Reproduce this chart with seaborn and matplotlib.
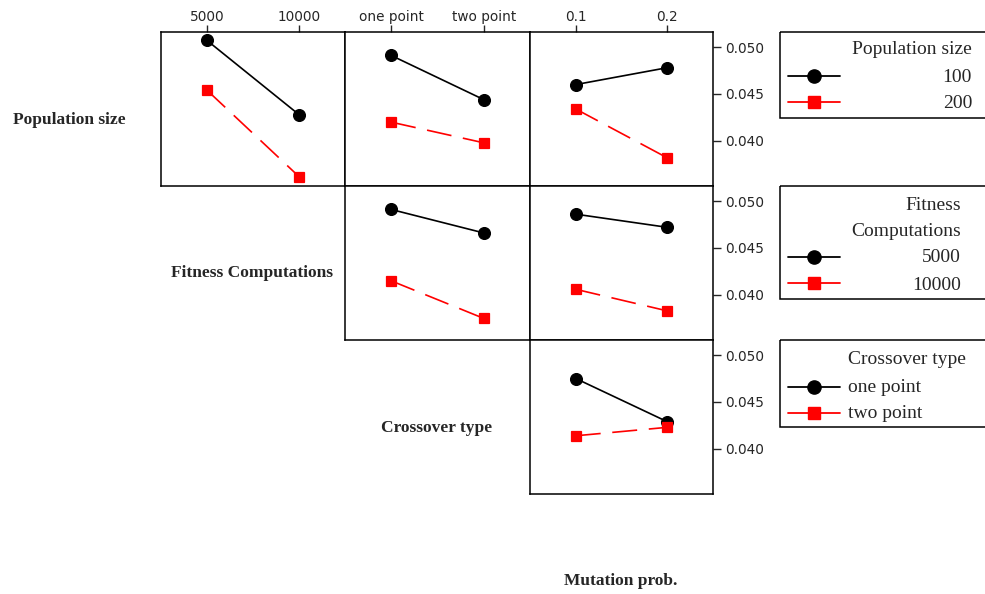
import matplotlib
matplotlib.use("Agg")
import matplotlib.pyplot as plt
import seaborn as sns
import pandas as pd
from matplotlib.patches import Rectangle
from matplotlib.lines import Line2D

# ---------------- data ----------------
pop_levels = ["100", "200"]
fit_levels = ["5000", "10000"]
cross_levels = ["one point", "two point"]
mut_levels = ["0.1", "0.2"]

# row 1: Population size traces
pop_fit_100 = [0.0507, 0.0428]
pop_fit_200 = [0.0454, 0.0362]
pop_cross_100 = [0.0491, 0.0444]
pop_cross_200 = [0.0420, 0.0398]
pop_mut_100 = [0.0460, 0.0478]
pop_mut_200 = [0.0434, 0.0382]
# row 2: Fitness computations traces
fit_cross_5000 = [0.0491, 0.0466]
fit_cross_10000 = [0.0415, 0.0375]
fit_mut_5000 = [0.0486, 0.0472]
fit_mut_10000 = [0.0406, 0.0383]
# row 3: Crossover type traces
cross_mut_one = [0.0475, 0.0429]
cross_mut_two = [0.0414, 0.0423]

y_ticks = [0.040, 0.045, 0.050]
y_lim = (0.0352, 0.0516)

sns.set_style("white")
plt.rcParams["font.family"] = ["DejaVu Sans"]

W, H = 985, 594
fig = plt.figure(figsize=(W / 100, H / 100), dpi=100)

col_x = [(161, 345), (345, 530), (530, 713)]
row_y = [(32, 186), (186, 340), (340, 494)]

def make_ax(r, c):
    x0, x1 = col_x[c]
    y0, y1 = row_y[r]
    return fig.add_axes([x0 / W, 1 - y1 / H, (x1 - x0) / W, (y1 - y0) / H])

panels = [
    (0, 0, fit_levels, pop_levels, [pop_fit_100, pop_fit_200]),
    (0, 1, cross_levels, pop_levels, [pop_cross_100, pop_cross_200]),
    (0, 2, mut_levels, pop_levels, [pop_mut_100, pop_mut_200]),
    (1, 1, cross_levels, fit_levels, [fit_cross_5000, fit_cross_10000]),
    (1, 2, mut_levels, fit_levels, [fit_mut_5000, fit_mut_10000]),
    (2, 2, mut_levels, cross_levels, [cross_mut_one, cross_mut_two]),
]

for r, c, xlev, tlev, vals in panels:
    ax = make_ax(r, c)
    rows = []
    for t, v in zip(tlev, vals):
        for xl, yv in zip(xlev, v):
            rows.append({"x": xl, "y": yv, "trace": t})
    df = pd.DataFrame(rows)
    sns.pointplot(data=df, x="x", y="y", hue="trace", order=xlev, hue_order=tlev,
                  palette=["black", "red"], markers=["o", "s"], linestyles=["-", "--"],
                  markersize=8.5, linewidth=1.2, ax=ax, legend=False, errorbar=None)
    for ln in ax.lines:
        if ln.get_marker() == "s":
            ln.set_markersize(6.8)
            ln.set_linestyle((0, (15, 7)))
    ax.set_xlim(-0.5, 1.5)
    ax.set_ylim(*y_lim)
    ax.set_xlabel("")
    ax.set_ylabel("")
    for s in ax.spines.values():
        s.set_visible(True)
        s.set_linewidth(1.1)
        s.set_color("black")
    ax.tick_params(left=False, labelleft=False, bottom=False, labelbottom=False)
    if r == 0:
        ax.xaxis.tick_top()
        ax.tick_params(axis="x", top=True, labeltop=True, direction="out", length=5,
                       width=1.0, labelsize=9.8, pad=0.5)
    else:
        ax.tick_params(axis="x", top=False, labeltop=False)
    ax.set_yticks(y_ticks)
    if c == 2:
        ax.yaxis.tick_right()
        ax.tick_params(axis="y", right=True, labelright=True, direction="out", length=6,
                       width=1.0, labelsize=9.8, pad=3)
        ax.set_yticklabels([f"{v:.3f}" for v in y_ticks])
    else:
        ax.tick_params(axis="y", right=False, labelright=False)

# overlay for labels and legends (pixel coordinates)
ov = fig.add_axes([0, 0, 1, 1], zorder=-1)
ov.set_xlim(0, W)
ov.set_ylim(H, 0)
ov.axis("off")

row_label_kw = dict(family="Liberation Serif", fontweight="bold", fontsize=12.5,
                    va="center", ha="center")
ov.text(69, 120, "Population size", **row_label_kw)
ov.text(252, 273, "Fitness Computations", **row_label_kw)
ov.text(437, 428, "Crossover type", **row_label_kw)
ov.text(621, 581, "Mutation prob.", **row_label_kw)

leg_font = dict(family="Liberation Serif", fontsize=14, va="center")

def legend_box(y0, y1, lines_y, texts):
    ov.add_patch(Rectangle((780, y0), 230, y1 - y0, fill=False, lw=1.1, ec="black",
                           clip_on=False))
    for ly, col, mk in zip(lines_y, ["black", "red"], ["o", "s"]):
        ov.add_line(Line2D([788, 840], [ly, ly], color=col, lw=1.3))
        ov.add_line(Line2D([814], [ly], color=col, marker=mk, markersize=9.5 if mk == "o" else 8.5,
                           markeredgecolor=col, markerfacecolor=col, lw=0))
    for tx, ty, txt, ha in texts:
        ov.text(tx, ty, txt, ha=ha, **leg_font)

legend_box(32, 118, [76, 102], [(972, 49, "Population size", "right"),
                                 (972, 77, "100", "right"),
                                 (972, 103, "200", "right")])
legend_box(186, 299, [257, 283], [(961, 205, "Fitness", "right"),
                                   (961, 232, "Computations", "right"),
                                   (961, 258, "5000", "right"),
                                   (961, 285, "10000", "right")])
legend_box(340, 427, [387, 413], [(848, 360, "Crossover type", "left"),
                                   (848, 387, "one point", "left"),
                                   (848, 413, "two point", "left")])

fig.savefig("out.png", dpi=100)
